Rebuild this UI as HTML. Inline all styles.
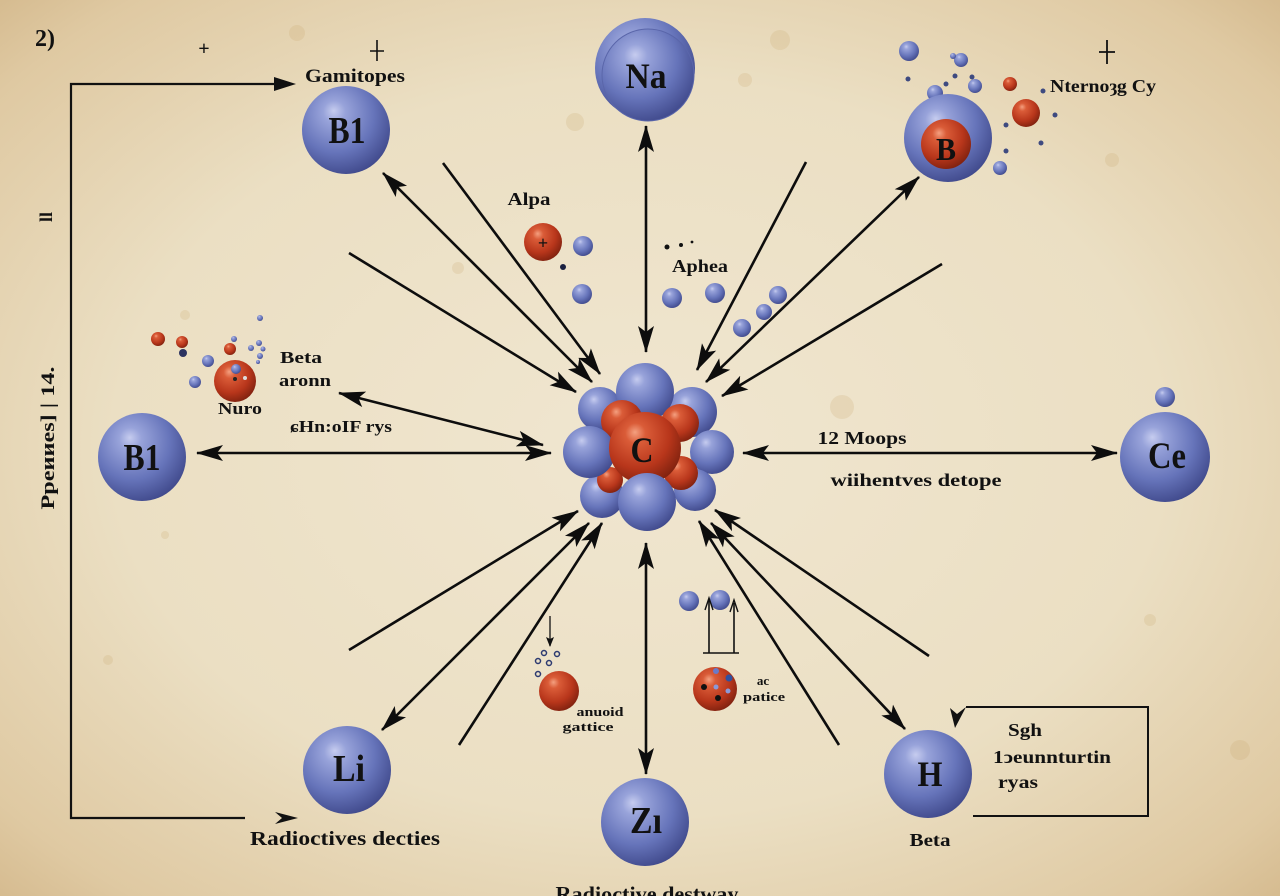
<!DOCTYPE html>
<html><head><meta charset="utf-8"><style>
html,body{margin:0;padding:0;}
body{width:1280px;height:896px;overflow:hidden;background:#e9dabb;}
svg{display:block;}
text{font-family:"Liberation Serif","DejaVu Serif",serif;font-weight:bold;fill:#111;}
</style></head><body>
<svg width="1280" height="896" viewBox="0 0 1280 896" xmlns="http://www.w3.org/2000/svg">
<defs>
<radialGradient id="bg" cx="0.5" cy="0.5" r="0.75">
<stop offset="0" stop-color="#f0e6d0"/>
<stop offset="0.55" stop-color="#ebdfc3"/>
<stop offset="0.85" stop-color="#dfc9a2"/>
<stop offset="1" stop-color="#d0b385"/>
</radialGradient>
<radialGradient id="bl" cx="0.4" cy="0.35" r="0.7" fx="0.36" fy="0.28">
<stop offset="0" stop-color="#c6ccef"/>
<stop offset="0.18" stop-color="#98a3da"/>
<stop offset="0.62" stop-color="#6674ba"/>
<stop offset="1" stop-color="#3e4789"/>
</radialGradient>
<radialGradient id="rd" cx="0.4" cy="0.35" r="0.7" fx="0.36" fy="0.28">
<stop offset="0" stop-color="#f4a080"/>
<stop offset="0.2" stop-color="#da5c38"/>
<stop offset="0.65" stop-color="#b8361b"/>
<stop offset="1" stop-color="#7c200e"/>
</radialGradient>
<marker id="ah" markerUnits="userSpaceOnUse" markerWidth="28" markerHeight="18" refX="26" refY="9" orient="auto-start-reverse" viewBox="0 0 28 18">
<path d="M0,1 L27,9 L0,17 L6,9 Z" fill="#0d0d0d"/>
</marker>
<marker id="sh" markerUnits="userSpaceOnUse" markerWidth="10" markerHeight="10" refX="9" refY="5" orient="auto" viewBox="0 0 10 10">
<path d="M0,1 L10,5 L0,9 L2,5 Z" fill="#111"/>
</marker>
</defs>

<rect width="1280" height="896" fill="url(#bg)"/>
<!-- stains -->
<g fill="#c9a46a" opacity="0.2">
<circle cx="297" cy="33" r="8"/><circle cx="842" cy="407" r="12"/><circle cx="575" cy="122" r="9"/>
<circle cx="1112" cy="160" r="7"/><circle cx="185" cy="315" r="5"/><circle cx="1240" cy="750" r="10"/>
<circle cx="108" cy="660" r="5"/><circle cx="458" cy="268" r="6"/><circle cx="780" cy="40" r="10"/>
<circle cx="165" cy="535" r="4"/><circle cx="1150" cy="620" r="6"/><circle cx="745" cy="80" r="7"/>
</g>

<!-- top left labels -->
<text x="45" y="46" font-size="24" text-anchor="middle">2)</text>
<text x="204" y="55" font-size="20" text-anchor="middle" font-weight="normal">+</text>
<path d="M377,40 V61 M370,51 H384" stroke="#111" stroke-width="1.6"/>
<path d="M1107,40 V64 M1099,52 H1115" stroke="#111" stroke-width="1.8"/>

<!-- left bracket -->
<path d="M276,84 H71 V818 H245" fill="none" stroke="#111" stroke-width="2.2"/>
<path d="M274,77 L296,84 L274,91 Z" fill="#111"/>
<path d="M275,812 L298,818 L275,824 L282,818 Z" fill="#111"/>

<!-- rotated left labels -->
<text transform="translate(54,438) rotate(-90)" font-size="19" text-anchor="middle" textLength="143" lengthAdjust="spacingAndGlyphs">Ppeииes] | 14.</text>
<text transform="translate(52,217) rotate(-90)" font-size="18" text-anchor="middle">ll</text>

<!-- connectors -->
<g stroke="#0d0d0d" stroke-width="2.6" fill="none">
<path d="M383,173 L592,382" marker-start="url(#ah)" marker-end="url(#ah)"/>
<path d="M443,163 L600,374" marker-end="url(#ah)"/>
<path d="M349,253 L576,392" marker-end="url(#ah)"/>
<path d="M646,126 L646,352" marker-start="url(#ah)" marker-end="url(#ah)"/>
<path d="M806,162 L697,370" marker-end="url(#ah)"/>
<path d="M919,177 L706,382" marker-start="url(#ah)" marker-end="url(#ah)"/>
<path d="M942,264 L722,396" marker-end="url(#ah)"/>
<path d="M743,453 L1117,453" marker-start="url(#ah)" marker-end="url(#ah)"/>
<path d="M197,453 L551,453" marker-start="url(#ah)" marker-end="url(#ah)"/>
<path d="M339,393 L543,445" marker-start="url(#ah)" marker-end="url(#ah)"/>
<path d="M349,650 L578,511" marker-end="url(#ah)"/>
<path d="M382,730 L589,523" marker-start="url(#ah)" marker-end="url(#ah)"/>
<path d="M459,745 L602,523" marker-end="url(#ah)"/>
<path d="M646,543 L646,774" marker-start="url(#ah)" marker-end="url(#ah)"/>
<path d="M839,745 L699,521" marker-end="url(#ah)"/>
<path d="M711,523 L905,729" marker-start="url(#ah)" marker-end="url(#ah)"/>
<path d="M929,656 L715,510" marker-end="url(#ah)"/>
</g>

<!-- Na -->
<circle cx="645" cy="68" r="50" fill="url(#bl)"/>
<circle cx="648" cy="75" r="46" fill="url(#bl)" stroke="#5a66aa" stroke-width="1"/>
<text x="646" y="88" font-size="36" text-anchor="middle" textLength="41" lengthAdjust="spacingAndGlyphs">Na</text>

<!-- B1 top -->
<text x="355" y="82" font-size="19" text-anchor="middle" textLength="100" lengthAdjust="spacingAndGlyphs">Gamitopes</text>
<circle cx="346" cy="130" r="44" fill="url(#bl)"/>
<text x="347" y="143" font-size="38" text-anchor="middle" textLength="37" lengthAdjust="spacingAndGlyphs">B1</text>

<!-- top right B cluster -->
<g fill="url(#bl)">
<circle cx="909" cy="51" r="10"/><circle cx="961" cy="60" r="7"/><circle cx="953" cy="56" r="3"/>
<circle cx="975" cy="86" r="7"/><circle cx="935" cy="93" r="8"/><circle cx="1000" cy="168" r="7"/>
</g>
<g fill="#3e4a80">
<circle cx="908" cy="79" r="2.5"/><circle cx="955" cy="76" r="2.5"/><circle cx="946" cy="84" r="2.5"/>
<circle cx="972" cy="77" r="2.5"/><circle cx="1043" cy="91" r="2.5"/><circle cx="1055" cy="115" r="2.5"/>
<circle cx="1006" cy="125" r="2.5"/><circle cx="1041" cy="143" r="2.5"/><circle cx="1006" cy="151" r="2.5"/>
</g>
<circle cx="1010" cy="84" r="7" fill="url(#rd)"/>
<circle cx="1026" cy="113" r="14" fill="url(#rd)"/>
<circle cx="948" cy="138" r="44" fill="url(#bl)"/>
<circle cx="946" cy="144" r="25" fill="url(#rd)"/>
<text x="946" y="160" font-size="32" text-anchor="middle" textLength="20" lengthAdjust="spacingAndGlyphs">B</text>
<text x="1050" y="92" font-size="18" textLength="106" lengthAdjust="spacingAndGlyphs">Nternoȝg Cy</text>

<!-- Alpa -->
<text x="529" y="205" font-size="18" text-anchor="middle" textLength="43" lengthAdjust="spacingAndGlyphs">Alpa</text>
<circle cx="543" cy="242" r="19" fill="url(#rd)"/>
<text x="543" y="249" font-size="18" text-anchor="middle">+</text>
<circle cx="583" cy="246" r="10" fill="url(#bl)"/>
<circle cx="563" cy="267" r="3" fill="#1a2040"/>
<circle cx="582" cy="294" r="10" fill="url(#bl)"/>

<!-- Aphea -->
<circle cx="667" cy="247" r="2.5" fill="#111"/><circle cx="681" cy="245" r="2" fill="#111"/><circle cx="692" cy="242" r="1.4" fill="#111"/>
<text x="700" y="272" font-size="18" text-anchor="middle" textLength="56" lengthAdjust="spacingAndGlyphs">Aphea</text>
<g fill="url(#bl)">
<circle cx="672" cy="298" r="10"/><circle cx="715" cy="293" r="10"/><circle cx="778" cy="295" r="9"/>
<circle cx="764" cy="312" r="8"/><circle cx="742" cy="328" r="9"/>
</g>

<!-- left cluster -->
<g fill="url(#rd)">
<circle cx="158" cy="339" r="7"/><circle cx="182" cy="342" r="6"/><circle cx="230" cy="349" r="6"/>
</g>
<circle cx="183" cy="353" r="4" fill="#2c3360"/>
<g fill="url(#bl)">
<circle cx="234" cy="339" r="3"/><circle cx="260" cy="318" r="3"/><circle cx="251" cy="348" r="3"/>
<circle cx="259" cy="343" r="3"/><circle cx="263" cy="349" r="2.5"/><circle cx="260" cy="356" r="3"/>
<circle cx="258" cy="362" r="2"/><circle cx="208" cy="361" r="6"/><circle cx="195" cy="382" r="6"/>
</g>
<circle cx="235" cy="381" r="21" fill="url(#rd)"/>
<circle cx="236" cy="369" r="5" fill="url(#bl)"/>
<circle cx="235" cy="379" r="2" fill="#222"/><circle cx="245" cy="378" r="2" fill="#ddd"/>
<text x="280" y="363" font-size="17" textLength="42" lengthAdjust="spacingAndGlyphs">Beta</text>
<text x="279" y="386" font-size="17" textLength="52" lengthAdjust="spacingAndGlyphs">aronn</text>
<text x="218" y="414" font-size="17" textLength="44" lengthAdjust="spacingAndGlyphs">Nuro</text>
<text x="290" y="432" font-size="17" textLength="102" lengthAdjust="spacingAndGlyphs">ɕHn:oIF rys</text>

<!-- left B1 -->
<circle cx="142" cy="457" r="44" fill="url(#bl)"/>
<text x="142" y="470" font-size="38" text-anchor="middle" textLength="37" lengthAdjust="spacingAndGlyphs">B1</text>

<!-- nucleus -->
<g fill="url(#bl)">
<circle cx="692" cy="412" r="25"/>
<circle cx="600" cy="409" r="22"/>
<circle cx="645" cy="392" r="29"/>
<circle cx="712" cy="452" r="22"/>
<circle cx="602" cy="496" r="22"/>
<circle cx="695" cy="490" r="21"/>
</g>
<g fill="url(#rd)">
<circle cx="622" cy="421" r="21"/>
<circle cx="680" cy="423" r="19"/>
<circle cx="610" cy="480" r="13"/>
<circle cx="681" cy="473" r="17"/>
</g>
<circle cx="589" cy="452" r="26" fill="url(#bl)"/>
<circle cx="645" cy="448" r="36" fill="url(#rd)"/>
<circle cx="647" cy="502" r="29" fill="url(#bl)"/>
<text x="642" y="462" font-size="36" text-anchor="middle" textLength="23" lengthAdjust="spacingAndGlyphs">C</text>

<!-- right labels, Ce -->
<text x="862" y="444" font-size="18" text-anchor="middle" textLength="89" lengthAdjust="spacingAndGlyphs">12 Moops</text>
<text x="916" y="486" font-size="18" text-anchor="middle" textLength="171" lengthAdjust="spacingAndGlyphs">wiihentves detope</text>
<circle cx="1165" cy="397" r="10" fill="url(#bl)"/>
<circle cx="1165" cy="457" r="45" fill="url(#bl)"/>
<text x="1167" y="468" font-size="37" text-anchor="middle" textLength="38" lengthAdjust="spacingAndGlyphs">Ce</text>

<!-- lower left particle -->
<path d="M550,616 V646" stroke="#111" stroke-width="1.3" marker-end="url(#sh)"/>
<g fill="none" stroke="#2c3a70" stroke-width="1.5">
<circle cx="544" cy="653" r="2.5"/><circle cx="557" cy="654" r="2.5"/><circle cx="538" cy="661" r="2.5"/>
<circle cx="549" cy="663" r="2.5"/><circle cx="538" cy="674" r="2.5"/>
</g>
<circle cx="559" cy="691" r="20" fill="url(#rd)"/>
<text x="600" y="716" font-size="13" text-anchor="middle" font-weight="normal" textLength="47" lengthAdjust="spacingAndGlyphs">anuoid</text>
<text x="588" y="731" font-size="13" text-anchor="middle" font-weight="normal" textLength="51" lengthAdjust="spacingAndGlyphs">gattice</text>

<!-- lower right particle -->
<circle cx="689" cy="601" r="10" fill="url(#bl)"/>
<circle cx="720" cy="600" r="10" fill="url(#bl)"/>
<path d="M703,653 H739 M709,653 V600 M734,653 V603" fill="none" stroke="#111" stroke-width="1.6"/>
<path d="M705,610 L709,598 L713,610" fill="none" stroke="#111" stroke-width="1.4"/>
<path d="M730,612 L734,600 L738,612" fill="none" stroke="#111" stroke-width="1.4"/>
<circle cx="715" cy="689" r="22" fill="url(#rd)"/>
<circle cx="704" cy="687" r="3" fill="#111"/><circle cx="716" cy="671" r="3" fill="#6a7ac8"/>
<circle cx="716" cy="687" r="2.5" fill="#8a9ad8"/><circle cx="729" cy="678" r="3.5" fill="#3050a0"/>
<circle cx="728" cy="691" r="2.5" fill="#8a9ad8"/><circle cx="718" cy="698" r="3" fill="#111"/>
<text x="763" y="685" font-size="13" text-anchor="middle" font-weight="normal">ac</text>
<text x="764" y="701" font-size="13" text-anchor="middle" font-weight="normal" textLength="42" lengthAdjust="spacingAndGlyphs">patice</text>

<!-- Li -->
<circle cx="347" cy="770" r="44" fill="url(#bl)"/>
<text x="349" y="781" font-size="38" text-anchor="middle" textLength="32" lengthAdjust="spacingAndGlyphs">Li</text>
<text x="345" y="845" font-size="20" text-anchor="middle" textLength="190" lengthAdjust="spacingAndGlyphs">Radioctives decties</text>

<!-- Zi -->
<circle cx="645" cy="822" r="44" fill="url(#bl)"/>
<text x="646" y="833" font-size="38" text-anchor="middle" textLength="32" lengthAdjust="spacingAndGlyphs">Zı</text>
<text x="647" y="901" font-size="21" text-anchor="middle" textLength="183" lengthAdjust="spacingAndGlyphs">Radioctive destway</text>

<!-- H + box -->
<path d="M966,707 H1148 V816 H973" fill="none" stroke="#111" stroke-width="2"/>
<path d="M955,728 L950,708 L957,714 L966,707 Z" fill="#111"/>
<circle cx="928" cy="774" r="44" fill="url(#bl)"/>
<text x="930" y="786" font-size="36" text-anchor="middle" textLength="25" lengthAdjust="spacingAndGlyphs">H</text>
<text x="1008" y="736" font-size="18" textLength="34" lengthAdjust="spacingAndGlyphs">Sgh</text>
<text x="993" y="763" font-size="18" textLength="118" lengthAdjust="spacingAndGlyphs">1ↄeunnturtin</text>
<text x="998" y="788" font-size="18" textLength="40" lengthAdjust="spacingAndGlyphs">ryas</text>
<text x="930" y="846" font-size="18" text-anchor="middle" textLength="41" lengthAdjust="spacingAndGlyphs">Beta</text>
</svg>
</body></html>
